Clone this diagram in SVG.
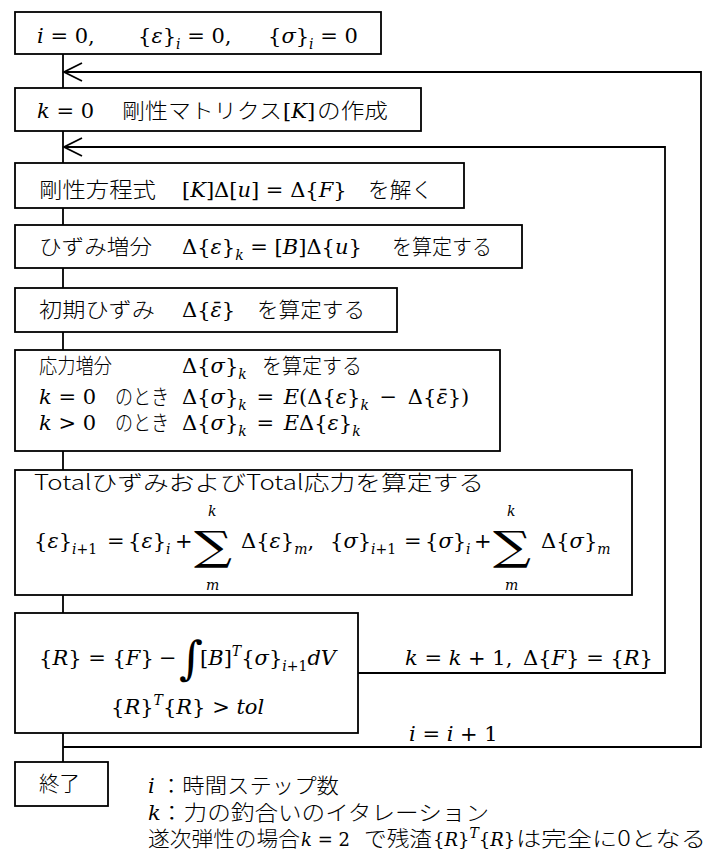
<svg xmlns="http://www.w3.org/2000/svg" width="709" height="854" viewBox="0 0 709 854">
<style>
.box{fill:#fff;stroke:#000;stroke-width:1.8}
.ln{fill:none;stroke:#000;stroke-width:1.8}
.m{font-family:"DejaVu Serif","Liberation Serif",serif;font-size:21px;fill:#000}
.i{font-style:italic}
.s{font-size:14px}
.n{font-size:18px}
.big{font-family:"DejaVu Serif","Liberation Serif",serif;font-size:40px;fill:#000}
.j{font-family:"Noto Sans CJK JP Light","Noto Sans CJK JP","Noto Sans CJK SC",sans-serif;font-size:21px;font-weight:300;fill:#000}
</style>
<defs>
<marker id="chev" markerUnits="userSpaceOnUse" markerWidth="22" markerHeight="22" viewBox="0 0 22 22" refX="20" refY="11" orient="auto">
<path d="M2,2 L20,11 L2,20" fill="none" stroke="#000" stroke-width="1.8"/>
</marker>
</defs>
<g id="connectors">
<path class="ln" d="M63,54 V88 M63,131 V163 M63,208 V225 M63,268 V288 M63,332 V350 M63,451 V470 M63,595 V613 M63,733 V762"/>
<path class="ln" d="M63,747 H701 V72 H64" marker-end="url(#chev)"/>
<path class="ln" d="M358,673 H665 V147 H64" marker-end="url(#chev)"/>
</g>
<g id="n1">
<rect class="box" x="15" y="12" width="366" height="42"/>
<text class="m" x="37" y="43"><tspan class="i">i</tspan> = 0,</text>
<text class="m" x="138" y="43">{<tspan class="i">ε</tspan>}<tspan class="i s" dy="6">i</tspan><tspan dy="-6"> = 0,</tspan></text>
<text class="m" x="268" y="43">{<tspan class="i">σ</tspan>}<tspan class="i s" dy="6">i</tspan><tspan dy="-6"> = 0</tspan></text>
</g>
<g id="n2">
<rect class="box" x="15" y="88" width="406" height="43"/>
<text class="m" x="37" y="118"><tspan class="i">k</tspan> = 0</text>
<text class="j" x="122" y="118" textLength="160" lengthAdjust="spacingAndGlyphs">剛性マトリクス</text>
<text class="m" x="283" y="118">[<tspan class="i">K</tspan>]</text>
<text class="j" x="317" y="118" textLength="71" lengthAdjust="spacingAndGlyphs">の作成</text>
</g>
<g id="n3">
<rect class="box" x="15" y="163" width="449" height="45"/>
<text class="j" x="39" y="197" textLength="117" lengthAdjust="spacingAndGlyphs">剛性方程式</text>
<text class="m" x="182" y="197">[<tspan class="i">K</tspan>]Δ[<tspan class="i">u</tspan>] = Δ{<tspan class="i">F</tspan>}</text>
<text class="j" x="368" y="197" textLength="65" lengthAdjust="spacingAndGlyphs">を解く</text>
</g>
<g id="n4">
<rect class="box" x="15" y="225" width="507" height="43"/>
<text class="j" x="39" y="254" textLength="113" lengthAdjust="spacingAndGlyphs">ひずみ増分</text>
<text class="m" x="182" y="254">Δ{<tspan class="i">ε</tspan>}<tspan class="i s" dy="6">k</tspan><tspan dy="-6"> = [</tspan><tspan class="i">B</tspan>]Δ{<tspan class="i">u</tspan>}</text>
<text class="j" x="392" y="254" textLength="100" lengthAdjust="spacingAndGlyphs">を算定する</text>
</g>
<g id="n5">
<rect class="box" x="15" y="288" width="382" height="44"/>
<text class="j" x="39" y="317" textLength="116" lengthAdjust="spacingAndGlyphs">初期ひずみ</text>
<text class="m" x="182" y="317">Δ{<tspan class="i">ε̄</tspan>}</text>
<text class="j" x="257" y="317" textLength="108" lengthAdjust="spacingAndGlyphs">を算定する</text>
</g>
<g id="n6">
<rect class="box" x="15" y="350" width="485" height="101"/>
<text class="j" x="39" y="373" textLength="73" lengthAdjust="spacingAndGlyphs">応力増分</text>
<text class="m" x="182" y="373">Δ{<tspan class="i">σ</tspan>}<tspan class="i s" dy="6">k</tspan></text>
<text class="j" x="262" y="373" textLength="100" lengthAdjust="spacingAndGlyphs">を算定する</text>
<text class="m" x="39" y="404"><tspan class="i">k</tspan> = 0</text>
<text class="j" x="115" y="404" textLength="54" lengthAdjust="spacingAndGlyphs">のとき</text>
<text class="m" x="182" y="404">Δ{<tspan class="i">σ</tspan>}<tspan class="i s" dy="6">k</tspan><tspan dy="-6" dx="3"> = </tspan><tspan class="i" dx="3">E</tspan>(Δ{<tspan class="i">ε</tspan>}<tspan class="i s" dy="6">k</tspan><tspan dy="-6" dx="4"> − </tspan><tspan dx="4">Δ{</tspan><tspan class="i">ε̄</tspan>})</text>
<text class="m" x="39" y="430"><tspan class="i">k</tspan> &gt; 0</text>
<text class="j" x="115" y="430" textLength="54" lengthAdjust="spacingAndGlyphs">のとき</text>
<text class="m" x="182" y="430">Δ{<tspan class="i">σ</tspan>}<tspan class="i s" dy="6">k</tspan><tspan dy="-6" dx="3"> = </tspan><tspan class="i" dx="3">E</tspan>Δ{<tspan class="i">ε</tspan>}<tspan class="i s" dy="6">k</tspan></text>
</g>
<g id="n7">
<rect class="box" x="15" y="470" width="617" height="125"/>
<text class="j" x="34" y="490" textLength="450" lengthAdjust="spacingAndGlyphs">TotalひずみおよびTotal応力を算定する</text>
<text class="m" x="34" y="548">{<tspan class="i">ε</tspan>}<tspan class="s" dy="6"><tspan class="i">i</tspan>+1</tspan></text>
<text class="m" x="107" y="548">=</text>
<text class="m" x="128" y="548">{<tspan class="i">ε</tspan>}<tspan class="i s" dy="6">i</tspan></text>
<text class="m" x="175" y="548">+</text>
<text class="big" x="194" y="560" textLength="38" lengthAdjust="spacingAndGlyphs">∑</text>
<text class="m i s" x="208" y="516">k</text>
<text class="m i s" x="206" y="590">m</text>
<text class="m" x="241" y="548">Δ{<tspan class="i">ε</tspan>}<tspan class="i s" dy="6">m</tspan><tspan dy="-6">,</tspan></text>
<text class="m" x="330" y="548">{<tspan class="i">σ</tspan>}<tspan class="s" dy="6"><tspan class="i">i</tspan>+1</tspan></text>
<text class="m" x="404" y="548">=</text>
<text class="m" x="425" y="548">{<tspan class="i">σ</tspan>}<tspan class="i s" dy="6">i</tspan></text>
<text class="m" x="474" y="548">+</text>
<text class="big" x="493" y="560" textLength="38" lengthAdjust="spacingAndGlyphs">∑</text>
<text class="m i s" x="507" y="516">k</text>
<text class="m i s" x="505" y="590">m</text>
<text class="m" x="541" y="548">Δ{<tspan class="i">σ</tspan>}<tspan class="i s" dy="6">m</tspan></text>
</g>
<g id="n8">
<rect class="box" x="15" y="613" width="343" height="120"/>
<text class="m" x="39" y="665">{<tspan class="i">R</tspan>} = {<tspan class="i">F</tspan>}</text>
<text class="m" x="159" y="665">−</text>
<text class="big" x="179" y="674" style="font-size:46px">∫</text>
<text class="m" x="200" y="665">[<tspan class="i">B</tspan>]<tspan class="i s" dy="-9">T</tspan><tspan dy="9">{</tspan><tspan class="i">σ</tspan>}<tspan class="s" dy="6"><tspan class="i">i</tspan>+1</tspan><tspan class="i" dy="-6">dV</tspan></text>
<text class="m" x="111" y="714">{<tspan class="i">R</tspan>}<tspan class="i s" dy="-9">T</tspan><tspan dy="9">{</tspan><tspan class="i">R</tspan>} &gt; <tspan class="i">tol</tspan></text>
</g>
<g id="loop-labels">
<text class="m" x="405" y="665"><tspan class="i">k</tspan> = <tspan class="i">k</tspan> + 1,</text>
<text class="m" x="523" y="665">Δ{<tspan class="i">F</tspan>} = {<tspan class="i">R</tspan>}</text>
<text class="m" x="409" y="741"><tspan class="i">i</tspan> = <tspan class="i">i</tspan> + 1</text>
</g>
<g id="n9">
<rect class="box" x="15" y="762" width="93" height="44"/>
<text class="j" x="39" y="791" textLength="41" lengthAdjust="spacingAndGlyphs">終了</text>
</g>
<g id="notes">
<text class="m i" x="148" y="793">i</text>
<text class="j" x="160" y="793" textLength="179" lengthAdjust="spacingAndGlyphs">：時間ステップ数</text>
<text class="m i" x="148" y="820">k</text>
<text class="j" x="160" y="820" textLength="329" lengthAdjust="spacingAndGlyphs">：力の釣合いのイタレーション</text>
<text class="j" x="148" y="846" textLength="152" lengthAdjust="spacingAndGlyphs">遂次弾性の場合</text>
<text class="m n" x="301" y="846"><tspan class="i">k</tspan> = 2</text>
<text class="j" x="364" y="846" textLength="68" lengthAdjust="spacingAndGlyphs">で残渣</text>
<text class="m n" x="433" y="846">{<tspan class="i">R</tspan>}<tspan class="i s" dy="-8">T</tspan><tspan dy="8">{</tspan><tspan class="i">R</tspan>}</text>
<text class="j" x="516" y="846" textLength="190" lengthAdjust="spacingAndGlyphs">は完全に0となる</text>
</g>
</svg>
